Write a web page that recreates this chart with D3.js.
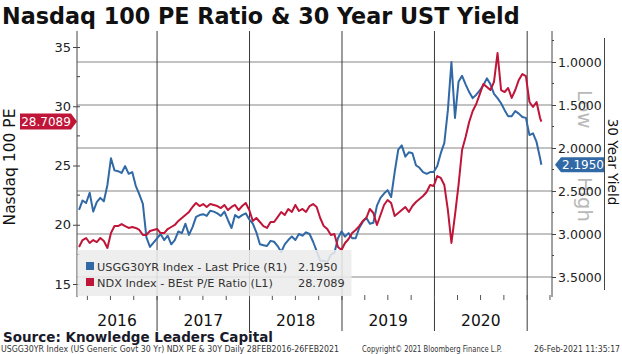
<!DOCTYPE html>
<html><head><meta charset="utf-8">
<script src="https://cdn.jsdelivr.net/npm/d3@7"></script>
<style>
html,body{margin:0;padding:0;background:#fff;}
svg{display:block;}
text{font-family:"DejaVu Sans",sans-serif;}
</style></head><body>
<svg id="chart" width="622" height="354"></svg>
<script>
const titleText = "Nasdaq 100 PE Ratio & 30 Year UST Yield";
const startDate = new Date(2016, 1, 28);
const endDate = new Date(2021, 1, 26);
// 30Y UST yield (R1), sampled every 14 days from 28 Feb 2016, last point 26 Feb 2021
const yieldValues = [
 2.72,2.61,2.64,2.52,2.74,2.63,2.58,2.62,2.43,2.12,
 2.26,2.27,2.29,2.21,2.30,2.28,2.44,2.54,2.65,3.04,
 3.15,3.10,3.05,3.00,3.07,3.02,3.12,3.07,2.97,2.99,
 2.88,3.01,2.92,2.80,2.78,2.77,2.79,2.73,2.74,2.76,
 2.79,2.74,2.84,2.93,2.78,2.81,2.78,2.76,2.83,2.88,
 2.98,3.12,3.13,3.14,3.08,3.09,3.14,3.21,3.12,3.07,
 3.03,3.07,3.00,3.02,2.98,3.00,3.09,3.20,3.31,3.31,
 3.33,3.24,3.22,3.05,2.97,3.03,2.99,3.05,3.05,2.93,
 2.86,2.81,2.88,2.87,2.67,2.58,2.53,2.49,2.57,2.28,
 2.02,1.97,2.10,2.05,2.06,2.20,2.23,2.28,2.30,2.28,
 2.28,2.21,2.06,1.94,1.56,1.00,1.65,1.23,1.16,1.26,
 1.35,1.42,1.38,1.33,1.27,1.19,1.26,1.37,1.42,1.48,
 1.56,1.63,1.63,1.57,1.60,1.64,1.65,1.85,1.83,1.93,
 2.12,2.195
];
// NDX BEst P/E ratio (L1)
const peValues = [
 18.12,18.71,18.88,18.46,18.71,18.54,18.88,18.63,18.04,19.30,
 19.89,19.89,20.06,19.89,19.73,19.81,19.73,19.56,19.14,19.14,
 19.47,19.56,19.64,19.30,19.30,19.64,19.81,19.98,20.32,20.57,
 20.82,21.08,21.50,21.84,21.58,21.75,21.50,21.75,21.67,21.58,
 21.41,21.67,21.24,21.50,21.67,21.24,21.58,21.84,21.24,20.32,
 20.57,20.23,19.89,19.73,20.23,20.23,20.65,21.08,20.82,21.33,
 21.08,21.67,21.16,21.33,21.08,21.58,21.75,21.50,20.57,19.89,
 19.64,19.14,19.22,18.12,17.87,18.46,18.80,19.30,19.56,19.89,
 20.32,20.57,21.33,20.99,19.98,20.82,21.67,22.09,21.84,20.74,
 20.99,21.24,21.50,21.08,21.58,21.92,22.17,22.43,22.76,23.35,
 23.27,24.11,23.95,23.35,21.24,18.46,20.82,23.35,26.31,27.41,
 28.67,29.60,30.19,31.03,31.88,31.62,31.37,32.05,34.49,31.37,
 31.20,31.54,30.70,31.37,32.22,32.72,32.55,30.36,29.94,30.36,
 29.01,28.7089
];
const peTicks = [15, 20, 25, 30, 35];
const yieldTicks = [1.0, 1.5, 2.0, 2.5, 3.0, 3.5];
const years = [2016, 2017, 2018, 2019, 2020];
const legendNames = ["USGG30YR Index - Last Price (R1)", "NDX Index - BEst P/E Ratio (L1)"];
const lastYieldLabel = "2.1950";
const lastPELabel = "28.7089";
const leftTitle = "Nasdaq 100 PE";
const rightTitle = "30 Year Yield";
const sourceText = "Source: Knowledge Leaders Capital";
const footLeft = "USGG30YR Index (US Generic Govt 30 Yr) NDX PE & 30Y  Daily 28FEB2016-26FEB2021";
const footMid = "Copyright\u00A9 2021 Bloomberg Finance L.P.";
const footRight = "26-Feb-2021 11:35:17";

const dates = d3.range(131).map(i => d3.timeDay.offset(startDate, 14 * i)).concat([endDate]);

const BLUE = "#3069a6", RED = "#bf1538";
const L = 77, R = 552, T = 31, B = 297;

const svg = d3.select("#chart");
svg.append("rect").attr("width", 622).attr("height", 354).attr("fill", "#fff");

const x = d3.scaleTime().domain([new Date(2016, 1, 20), new Date(2021, 3, 9)]).range([L, R]);
const yPE = d3.scaleLinear().domain([15, 35]).range([284, 47]);
const yY = d3.scaleLinear().domain([1.0, 3.5]).range([62, 277]);

// title
svg.append("text").attr("x", 2).attr("y", 24).text(titleText)
  .attr("font-weight", "bold").attr("font-size", 22.3).attr("fill", "#111");

// horizontal grid (right-axis ticks)
svg.append("g").selectAll("line").data(yieldTicks).join("line")
  .attr("x1", L).attr("x2", R).attr("y1", d => yY(d)).attr("y2", d => yY(d))
  .attr("stroke", "#858585").attr("stroke-width", 1.2);

// vertical year lines
const yearStarts = [2017, 2018, 2019, 2020, 2021].map(y => new Date(y, 0, 1));
svg.append("g").selectAll("line").data(yearStarts).join("line")
  .attr("x1", d => x(d)).attr("x2", d => x(d)).attr("y1", T).attr("y2", 331)
  .attr("stroke", "#3a3a3a").attr("stroke-width", 1);

// quarter ticks
const qTicks = d3.timeMonth.every(3).range(x.domain()[0], x.domain()[1]);
svg.append("g").selectAll("line").data(qTicks).join("line")
  .attr("x1", d => x(d)).attr("x2", d => x(d)).attr("y1", 295).attr("y2", 300)
  .attr("stroke", "#555").attr("stroke-width", 1);

// watermark
const wm = svg.append("g").attr("fill", "#b8b8b8").attr("font-size", 19.5);
wm.append("text").attr("transform", "translate(578,90) rotate(90)").text("Low");
wm.append("text").attr("transform", "translate(578,177) rotate(90)").text("High");

// axis lines
svg.append("line").attr("x1", L).attr("x2", L).attr("y1", T).attr("y2", B).attr("stroke", "#444");
svg.append("line").attr("x1", R).attr("x2", R).attr("y1", T).attr("y2", B).attr("stroke", "#444");

// left axis
const gl = svg.append("g").attr("transform", `translate(${L},0)`)
  .call(d3.axisLeft(yPE).tickValues(peTicks).tickSize(4).tickPadding(2));
gl.select(".domain").remove();
gl.selectAll(".tick line").attr("x1", 3).attr("stroke", "#444");
gl.selectAll(".tick text").attr("font-size", 13).attr("fill", "#222").attr("font-family", "DejaVu Sans");
svg.append("g").selectAll("line").data([17.5, 22.5, 27.5, 32.5]).join("line")
  .attr("x1", L).attr("x2", L + 3).attr("y1", d => yPE(d)).attr("y2", d => yPE(d)).attr("stroke", "#444");

// right axis
const gr = svg.append("g").attr("transform", `translate(${R},0)`)
  .call(d3.axisRight(yY).tickValues(yieldTicks).tickFormat(d3.format(".4f")).tickSize(4).tickPadding(2));
gr.select(".domain").remove();
gr.selectAll(".tick line").attr("stroke", "#444");
gr.selectAll(".tick text").attr("font-size", 12.5).attr("fill", "#222").attr("font-family", "DejaVu Sans");
svg.append("g").selectAll("line").data([0.75, 1.25, 1.75, 2.25, 2.75, 3.25]).join("line")
  .attr("x1", R).attr("x2", R + 2).attr("y1", d => yY(d)).attr("y2", d => yY(d)).attr("stroke", "#444");

// series
const series = dates.map((d, i) => ({ date: d, yld: yieldValues[i], pe: peValues[i] }));
svg.append("path").datum(series)
  .attr("d", d3.line().x(d => x(d.date)).y(d => yY(d.yld)))
  .attr("fill", "none").attr("stroke", BLUE).attr("stroke-width", 2).attr("stroke-linejoin", "round");
svg.append("path").datum(series)
  .attr("d", d3.line().x(d => x(d.date)).y(d => yPE(d.pe)))
  .attr("fill", "none").attr("stroke", RED).attr("stroke-width", 2).attr("stroke-linejoin", "round");

// legend
svg.append("rect").attr("x", L + 0.5).attr("y", 250).attr("width", 274).attr("height", 46)
  .attr("fill", "#ebebeb").attr("opacity", 0.87);
const lg = svg.append("g").attr("font-size", 11.3).attr("fill", "#333");
[[BLUE, legendNames[0], lastYieldLabel, 270.5], [RED, legendNames[1], lastPELabel, 286.5]].forEach(r => {
  lg.append("rect").attr("x", 86).attr("y", r[3] - 8.5).attr("width", 8).attr("height", 8).attr("fill", r[0]);
  lg.append("text").attr("x", 97).attr("y", r[3]).text(r[1]);
  lg.append("text").attr("x", 298).attr("y", r[3]).text(r[2]);
});

// last-value tags
const ty = yY(2.195);
svg.append("path").attr("d", `M555,${ty} L561,${ty - 7.5} H605 V${ty + 7.5} H561 Z`).attr("fill", BLUE);
svg.append("text").attr("x", 583).attr("y", ty + 4.3).attr("text-anchor", "middle")
  .attr("fill", "#fff").attr("font-size", 12).text(lastYieldLabel);
const tp = yPE(28.7089);
svg.append("path").attr("d", `M20,${tp - 8} H71 L77,${tp} L71,${tp + 8} H20 Z`).attr("fill", RED);
svg.append("text").attr("x", 46).attr("y", tp + 4.3).attr("text-anchor", "middle")
  .attr("fill", "#fff").attr("font-size", 12).text(lastPELabel);

// axis titles
svg.append("text").attr("transform", "translate(15,167) rotate(-90)").attr("text-anchor", "middle")
  .attr("font-size", 15.5).attr("fill", "#111").text(leftTitle);
svg.append("line").attr("x1", 604.5).attr("x2", 604.5).attr("y1", 38).attr("y2", 290).attr("stroke", "#444");
svg.append("text").attr("transform", "translate(608,162) rotate(90)").attr("text-anchor", "middle")
  .attr("font-size", 13.5).attr("fill", "#111").text(rightTitle);

// year labels
svg.append("g").selectAll("text").data(years).join("text")
  .attr("x", d => (Math.max(L, x(new Date(d, 0, 1))) + x(new Date(d + 1, 0, 1))) / 2)
  .attr("y", 325.5).attr("text-anchor", "middle").attr("font-size", 15.5).attr("fill", "#111")
  .text(d => d);

// source & footer
svg.append("text").attr("x", 3).attr("y", 341.8).attr("font-weight", "bold").attr("font-size", 13.5)
  .attr("fill", "#1a1a2a").text(sourceText);
const ft = svg.append("g").attr("font-size", 8).attr("fill", "#333").attr("font-family", "Liberation Sans");
ft.append("text").attr("x", 1).attr("y", 352.2).attr("textLength", 338).attr("lengthAdjust", "spacingAndGlyphs").text(footLeft);
ft.append("text").attr("x", 362).attr("y", 352.2).attr("textLength", 140).attr("lengthAdjust", "spacingAndGlyphs").text(footMid);
ft.append("text").attr("x", 534).attr("y", 352.2).attr("textLength", 86).attr("lengthAdjust", "spacingAndGlyphs").text(footRight);
</script>
</body></html>
